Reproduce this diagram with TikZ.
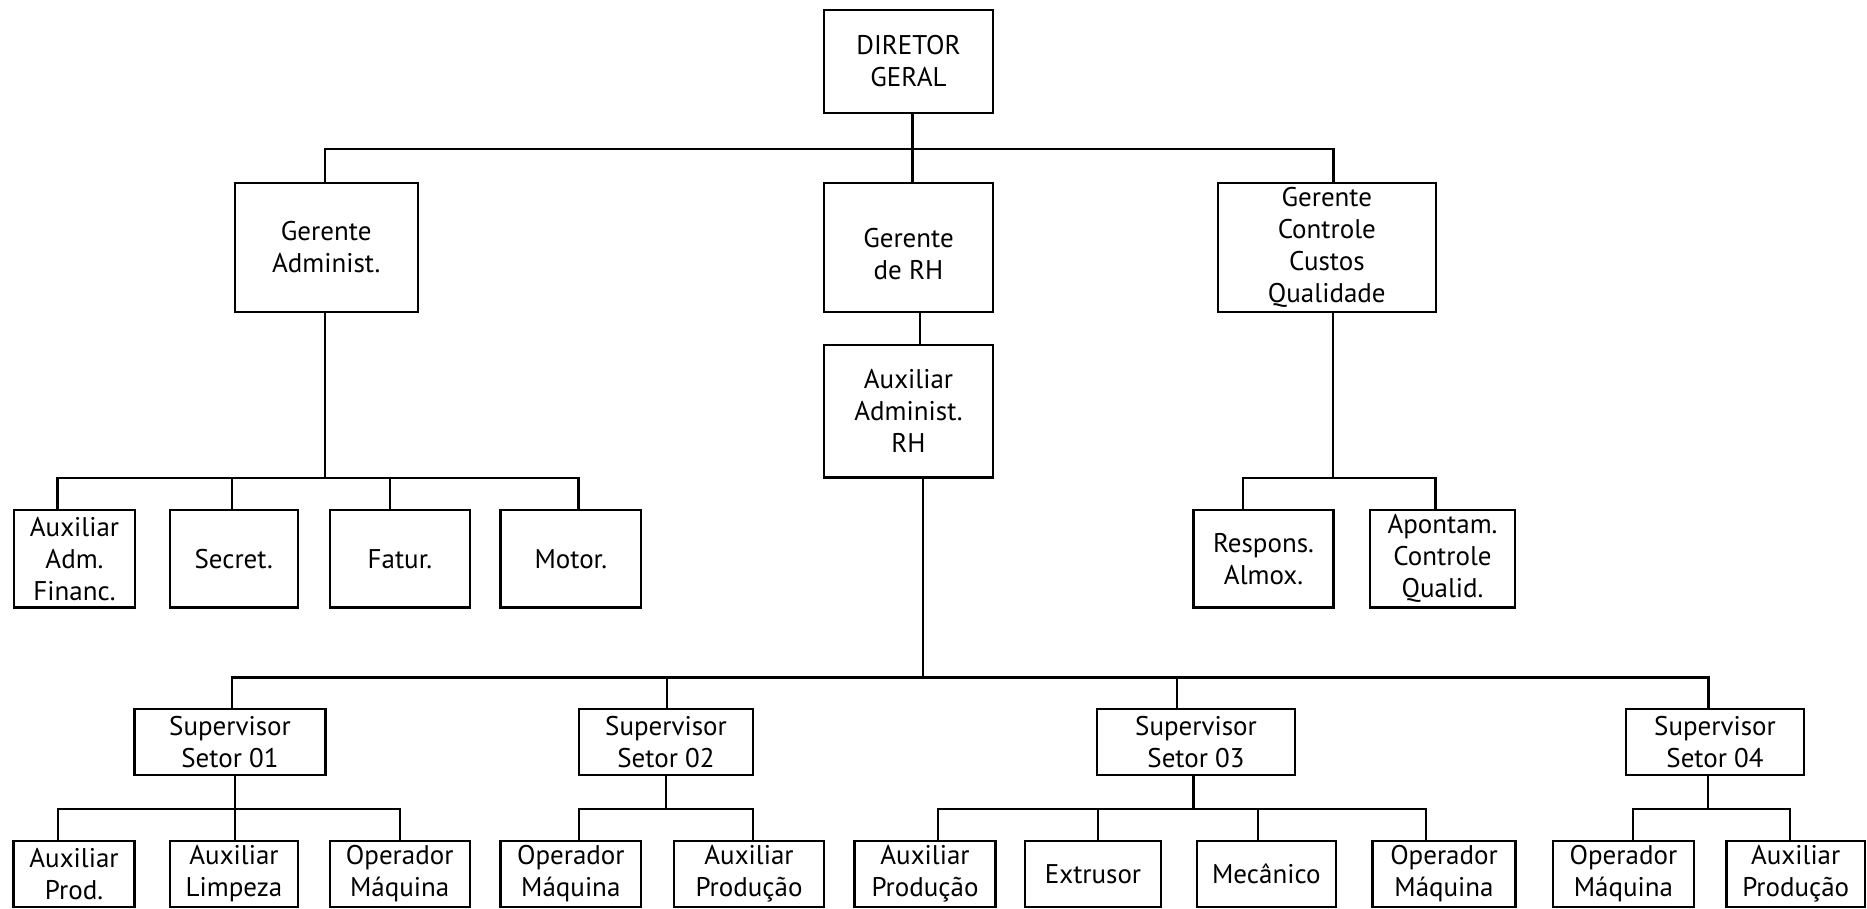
\documentclass[tikz,border=0pt]{standalone}
\usepackage{fontspec}
\setmainfont{PT Sans}
\usepackage{tikz}
\usetikzlibrary{positioning}
\tikzset{linha/.style={line width=2.2pt}}
\tikzset{caixa/.style={draw,line width=2.2pt,align=center,inner sep=0pt,font=\fontsize{27}{32}\selectfont}}

\begin{document}
\begin{tikzpicture}[x=1pt,y=-1pt]
    \useasboundingbox (0,0) rectangle (1867,908);

    % topo
    \node[caixa,minimum width=169,minimum height=103](dg) at (908.5,61.5) {DIRETOR\\GERAL};
    \node[caixa,minimum width=183,minimum height=129.5](ga) at (326.2,247.4) {Gerente\\Administ.};
    \node[caixa,minimum width=169,minimum height=129.5](grh) at (908.5,247.4) {\mbox{}\\Gerente\\de RH};
    \node[caixa,minimum width=218.4,minimum height=129.5](gc) at (1326.8,247.4) {Gerente\\Controle\\Custos\\Qualidade};
    \node[caixa,minimum width=169,minimum height=132.5](arh) at (908.5,411.2) {Auxiliar\\Administ.\\RH};

    % segundo nivel
    \node[caixa,minimum width=121,minimum height=97.5](a1) at (74.5,558.8) {Auxiliar\\Adm.\\Financ.};
    \node[caixa,minimum width=128,minimum height=97.5](a2) at (233.7,558.8) {Secret.};
    \node[caixa,minimum width=140,minimum height=97.5](a3) at (399.9,558.8) {Fatur.};
    \node[caixa,minimum width=140.5,minimum height=97.5](a4) at (570.8,558.8) {Motor.};
    \node[caixa,minimum width=140,minimum height=97.5](c1) at (1263.5,558.8) {Respons.\\Almox.};
    \node[caixa,minimum width=145,minimum height=97.5](c2) at (1442.5,558.8) {Apontam.\\Controle\\Qualid.};

    % supervisores
    \node[caixa,minimum width=191,minimum height=66](s1) at (230,742) {Supervisor\\Setor 01};
    \node[caixa,minimum width=174.5,minimum height=66](s2) at (666,742) {Supervisor\\Setor 02};
    \node[caixa,minimum width=198.6,minimum height=66](s3) at (1196,742) {Supervisor\\Setor 03};
    \node[caixa,minimum width=178,minimum height=66](s4) at (1715,742) {Supervisor\\Setor 04};

    % base
    \node[caixa,minimum width=121,minimum height=65.5](s11) at (74,874) {Auxiliar\\Prod.};
    \node[caixa,minimum width=128,minimum height=65.5](s12) at (234,874) {Auxiliar\\Limpeza};
    \node[caixa,minimum width=140,minimum height=65.5](s13) at (399.7,874) {Operador\\Máquina};
    \node[caixa,minimum width=140.5,minimum height=65.5](s21) at (570.8,874) {Operador\\Máquina};
    \node[caixa,minimum width=150,minimum height=65.5](s22) at (749,874) {Auxiliar\\Produção};
    \node[caixa,minimum width=141,minimum height=65.5](s31) at (925,874) {Auxiliar\\Produção};
    \node[caixa,minimum width=136.5,minimum height=65.5](s32) at (1093,874) {Extrusor};
    \node[caixa,minimum width=139.4,minimum height=65.5](s33) at (1266.3,874) {Mecânico};
    \node[caixa,minimum width=143,minimum height=65.5](s34) at (1444,874) {Operador\\Máquina};
    \node[caixa,minimum width=140.7,minimum height=65.5](s41) at (1623.4,874) {Operador\\Máquina};
    \node[caixa,minimum width=138.6,minimum height=65.5](s42) at (1795.7,874) {Auxiliar\\Produção};

    % ligacoes
    \foreach \n/\dx in {ga/-1,grh/4,gc/6.7}
        \draw[linha] ([xshift=4]dg.south) -- ++(0,35) -| ([xshift=\dx]\n.north);
    \draw[linha] ([xshift=11.5]grh.south) -- ([xshift=11.5]arh.north);
    \foreach \n/\dx in {a1/-17,a2/-2,a3/-10,a4/7.6}
        \draw[linha] ([xshift=-1]ga.south) -- ++(0,165) -| ([xshift=\dx]\n.north);
    \foreach \n/\dx in {c1/-20.5,c2/-7}
        \draw[linha] ([xshift=6.5]gc.south) -- ++(0,165) -| ([xshift=\dx]\n.north);
    \foreach \n/\dx in {s1/2,s2/0.7,s3/-19,s4/-6.5}
        \draw[linha] ([xshift=14.5]arh.south) -- ++(0,199) -| ([xshift=\dx]\n.north);
    \foreach \n/\dx in {s11/-16.4,s12/1,s13/0}
        \draw[linha] ([xshift=5]s1.south) -- ++(0,33) -| ([xshift=\dx]\n.north);
    \foreach \n/\dx in {s21/8,s22/4}
        \draw[linha] (s2.south) -- ++(0,33) -| ([xshift=\dx]\n.north);
    \foreach \n/\dx in {s31/13,s32/5,s33/-8.6,s34/-18}
        \draw[linha] ([xshift=-2.5]s3.south) -- ++(0,33) -| ([xshift=\dx]\n.north);
    \foreach \n/\dx in {s41/9.6,s42/-6}
        \draw[linha] ([xshift=-7]s4.south) -- ++(0,33) -| ([xshift=\dx]\n.north);
\end{tikzpicture}
\end{document}
